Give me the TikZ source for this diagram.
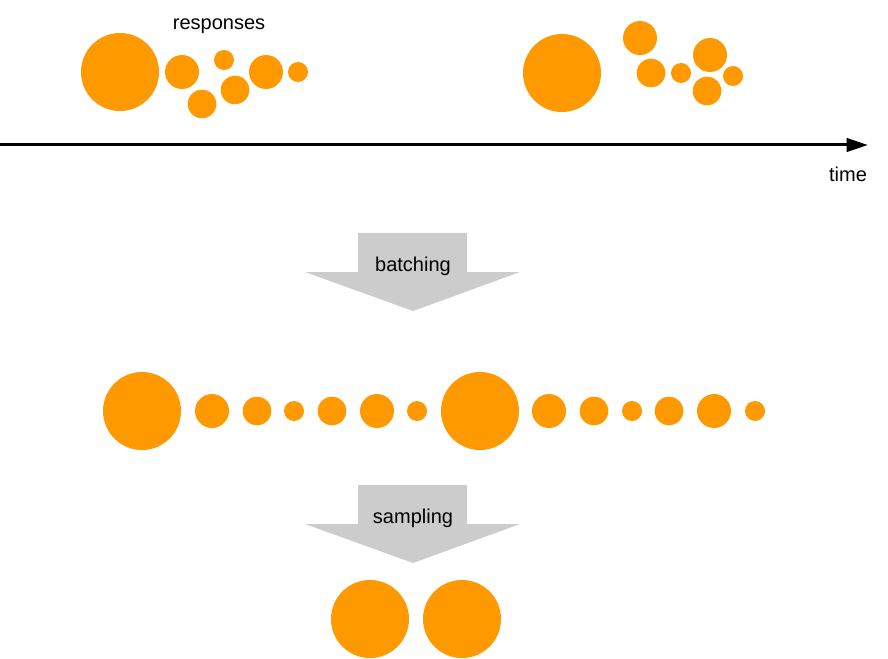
\documentclass[tikz,border=0pt]{standalone}
\usepackage{fontspec}
\setmainfont{Liberation Sans}
\usetikzlibrary{arrows.meta}
\definecolor{resporange}{RGB}{255,153,0}
\definecolor{stepgray}{RGB}{204,204,204}

\begin{document}
\begin{tikzpicture}[x=0.75pt,y=-0.75pt,
    lbl/.style={font=\fontsize{15}{18}\selectfont,inner sep=0pt}]
    \useasboundingbox (0,0) rectangle (888,659);
    % responses as they arrive
    \foreach \cx/\cy/\r in {120/72/39,182/72/17,224/60/10,202/104/14.3,235/90/14.3,266/72/17,298/72/10,
      562/73/39,640/38/17,651/73/14.3,681/73/10,710/55/17,707/91/14.3,733/76/10}
      \fill[resporange] (\cx,\cy) circle (\r);
    \node[lbl] (responses) at (219,26) {responses};
    % time axis
    \coordinate (tstart) at (0,145);
    \coordinate (tend) at (868,145);
    \draw[line width=2.25pt,-{Triangle[length=16pt,width=10pt]}] (tstart) -- (tend);
    \node[lbl] (time) at (848,174) {time};
    % block arrows
    \foreach \dy in {0,252}
      \fill[stepgray] (358,233+\dy) -- (467,233+\dy) -- (467,272+\dy) -- (520,272+\dy)
        -- (413,311+\dy) -- (305,272+\dy) -- (358,272+\dy) -- cycle;
    \node[lbl] (batching) at (413,266) {batching};
    \node[lbl] (sampling) at (413,518) {sampling};
    % batched row
    \foreach \cx/\r in {142/39,212/17,257/14.3,294/10,332/14.3,377/17,417/10,
      480/39,549/17,594/14.3,632/10,669/14.3,714/17,755/10}
      \fill[resporange] (\cx,411) circle (\r);
    % sampled
    \foreach \cx in {370,462}
      \fill[resporange] (\cx,619) circle (39);
\end{tikzpicture}
\end{document}
